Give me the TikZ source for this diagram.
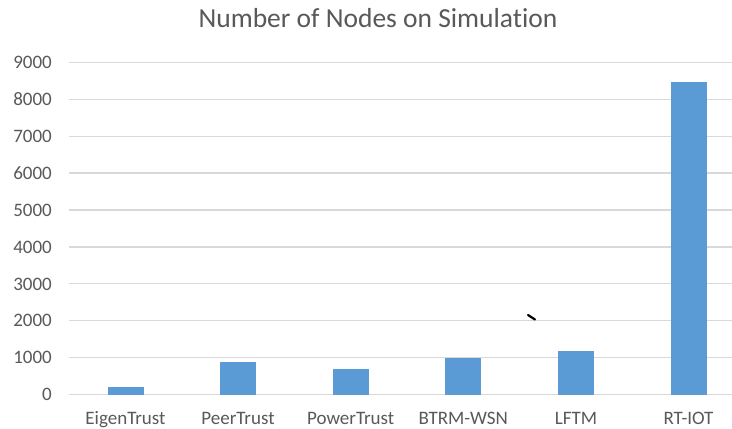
\documentclass[tikz,border=0pt]{standalone}
\usepackage{fontspec}
\setmainfont{Carlito}[Ligatures={NoCommon,NoContextual}]
\definecolor{barblue}{HTML}{5B9BD5}
\definecolor{gridgray}{HTML}{D9D9D9}
\definecolor{txtgray}{HTML}{595959}
\begin{document}
\begin{tikzpicture}[x=1pt,y=-1pt,
  gridline/.style={draw=gridgray,line width=1.3pt},
  barbox/.style={fill=barblue,draw=none},
  ylab/.style={anchor=base east,inner sep=0pt,text=txtgray,font=\fontsize{19}{22}\selectfont},
  xlab/.style={anchor=base,inner sep=0pt,text=txtgray,font=\fontsize{19}{22}\selectfont},
  titlelab/.style={anchor=base,inner sep=0pt,text=txtgray,font=\fontsize{27.5}{32}\selectfont}]
\useasboundingbox[fill=white] (0,0) rectangle (732,429);
% gridlines and y labels
\foreach \v [count=\i from 0] in {0,1000,...,9000}{
  \pgfmathsetmacro{\gy}{394.5-36.9*\i}
  \draw[gridline] (69,\gy) -- (732,\gy);
  \node[ylab] (y\i) at (52,\gy+6.2) {\v};
}
% bars
\foreach \c/\val/\nm [count=\j] in {125.5/210/EigenTrust,238/880/PeerTrust,350.7/680/PowerTrust,463.3/990/BTRM-WSN,576/1190/LFTM,688.5/8480/RT-IOT}{
  \fill[barbox] (\c-18,394.5) rectangle (\c+18,394.5-\val*0.0369);
  \node[xlab] (c\j) at (\c,424.8) {\nm};
}
% title
\node[titlelab] (title) at (378,27) {Number of Nodes on Simulat\hbox{}ion};
% stray mark
\coordinate (m1) at (528,315);
\coordinate (m2) at (535,319.5);
\draw[line width=2.2pt,line cap=round] (m1) -- (m2);
\end{tikzpicture}
\end{document}
